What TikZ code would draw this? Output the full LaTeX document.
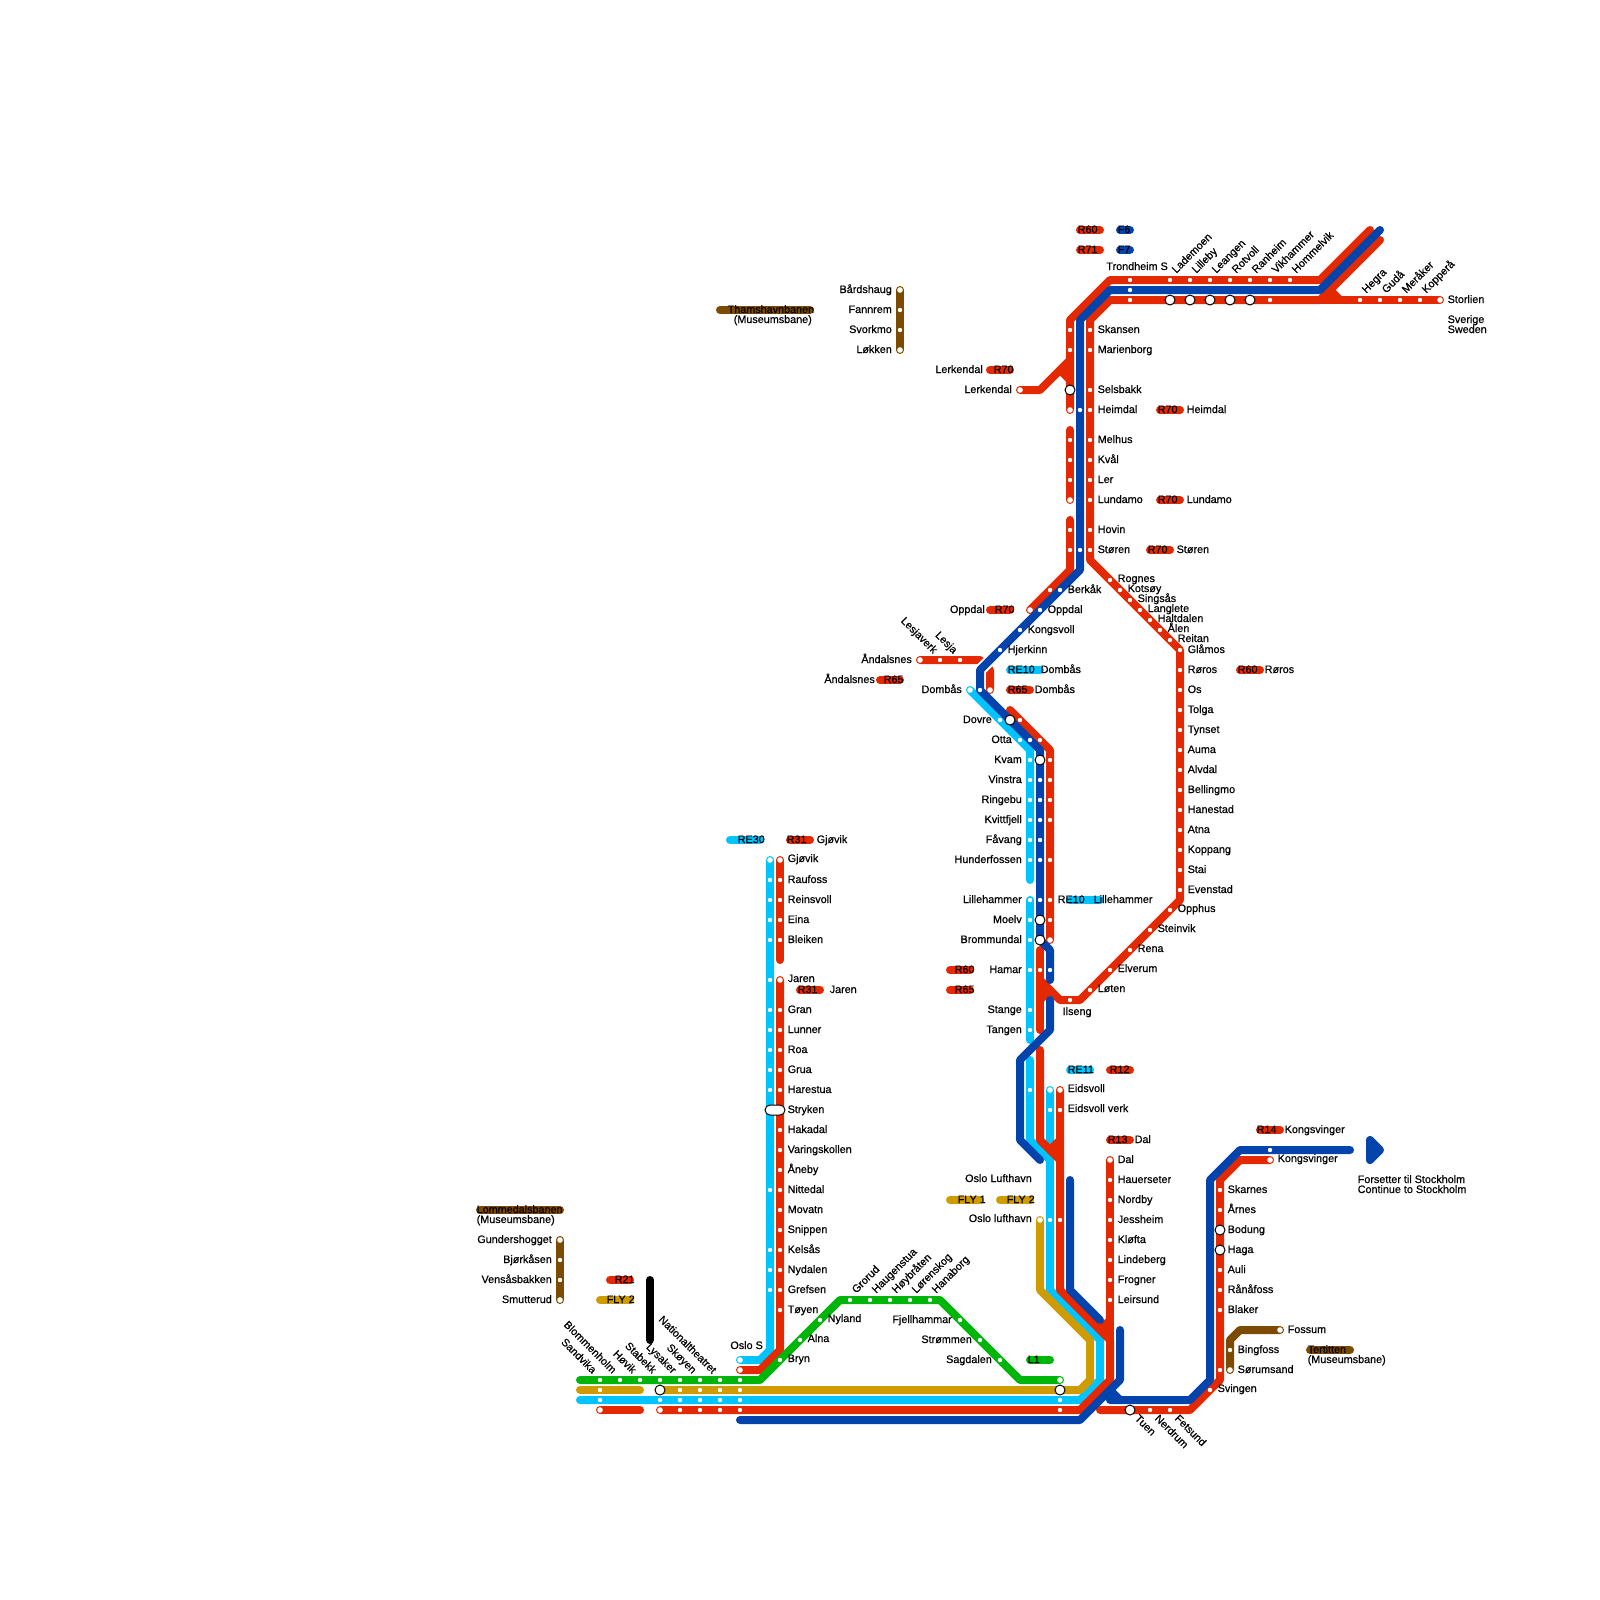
\documentclass[tikz,border=0pt]{standalone}
\usepackage{fontspec}
\setmainfont{Liberation Sans}[RawFeature={embolden=0.6}]
\usetikzlibrary{positioning}

\definecolor{redl}{HTML}{E42800}
\definecolor{bluel}{HTML}{0344AC}
\definecolor{skyl}{HTML}{00C4FF}
\definecolor{greenl}{HTML}{00B50A}
\definecolor{goldl}{HTML}{CE9C00}
\definecolor{brownl}{HTML}{7C4B00}

\tikzset{
  rail/.style={line width=8pt, line cap=round, line join=round},
  casing/.style={line width=12pt, white},
  stop/.style={circle, fill=white, inner sep=0pt, minimum size=4.4pt},
  endstop/.style={circle, fill=white, inner sep=0pt, minimum size=5.6pt},
  xfer/.style={circle, fill=white, draw=black, line width=1pt, inner sep=0pt, minimum size=10pt},
  pillstop/.style={rectangle, rounded corners=5pt, fill=white, draw=black, line width=1pt, inner sep=0pt, minimum width=20pt, minimum height=10pt},
  txt/.style={inner sep=0pt, font=\fontsize{10.8}{10.8}\selectfont},
  rlab/.style={txt, anchor=base west, xshift=-0.5pt},
  llab/.style={txt, anchor=base east},
  uplab/.style={txt, anchor=base west, rotate=45, xshift=3pt},
  dnlab/.style={txt, anchor=base east, rotate=-45, xshift=-2.5pt, yshift=-1.5pt},
  dnrlab/.style={txt, anchor=base west, rotate=-45, xshift=1.5pt, yshift=1.5pt},
}

\begin{document}
\begin{tikzpicture}[x=1pt, y=-1pt]
\useasboundingbox (0,0) rectangle (1600,1600);

% Sky lines
\draw[rail, skyl] (970,690) -- (1030,750) -- (1030,880);
\draw[rail, skyl] (1030,900) -- (1030,1040);
\draw[rail, skyl] (1030,1060) -- (1030,1140) -- (1050,1160);
\draw[rail, skyl] (1050,1090) -- (1050,1290) -- (1100,1340) -- (1100,1380) -- (1080,1400) -- (580,1400);
\draw[rail, skyl] (740,1360) -- (760,1360) -- (770,1350) -- (770,860);

% Gold lines
\draw[rail, goldl] (1040,1220) -- (1040,1290) -- (1090,1340) -- (1090,1380) -- (1080,1390) -- (660,1390);
\draw[rail, goldl] (580,1390) -- (640,1390);

% Red lines
\draw[rail, redl] (1370,230) -- (1320,280) -- (1110,280) -- (1070,320) -- (1070,410);
\draw[rail, redl] (1020,390) -- (1040,390) -- (1070,360);
\draw[rail, redl] (1060,370) -- (1070,380);
\draw[rail, redl] (1070,430) -- (1070,500);
\draw[rail, redl] (1070,520) -- (1070,570) -- (1030,610);
\draw[rail, redl] (1380,240) -- (1320,300) -- (1110,300) -- (1090,320) -- (1090,560) -- (1180,650) -- (1180,900) -- (1080,1000) -- (1060,1000) -- (1040,980);
\draw[rail, redl] (1320,300) -- (1440,300);
\draw[rail, redl] (1330,290) -- (1340,300);
\draw[rail, redl] (920,660) -- (980,660) -- (990,670) -- (990,690);
\draw[rail, redl] (1010,710) -- (1050,750) -- (1050,940);
\draw[rail, redl] (1040,950) -- (1040,1030);
\draw[rail, redl] (1040,1000) -- (1050,990);
\draw[rail, redl] (1040,1050) -- (1040,1140) -- (1060,1160);
\draw[rail, redl] (1060,1140) -- (1050,1150);
\draw[rail, redl] (1060,1090) -- (1060,1290) -- (1110,1340) -- (1110,1380) -- (1080,1410) -- (660,1410);
\draw[rail, redl] (600,1410) -- (640,1410);
\draw[rail, redl] (1110,1160) -- (1110,1340);
\draw[rail, redl] (1110,1320) -- (1100,1330);
\draw[rail, redl] (1270,1160) -- (1240,1160) -- (1220,1180) -- (1220,1380) -- (1190,1410) -- (1100,1410);
\draw[rail, redl] (740,1370) -- (760,1370) -- (780,1350) -- (780,980);
\draw[rail, redl] (780,860) -- (780,960);

% Blue lines
\draw[casing] (980,670) -- (1000,650);
\draw[rail, bluel] (1380,230) -- (1320,290) -- (1110,290) -- (1080,320) -- (1080,570) -- (980,670) -- (980,690) -- (1040,750) -- (1040,940) -- (1050,950) -- (1050,980);
\draw[rail, bluel] (1050,1000) -- (1050,1030) -- (1020,1060) -- (1020,1140) -- (1040,1160);
\draw[rail, bluel] (1070,1180) -- (1070,1290) -- (1100,1320);
\draw[rail, bluel] (1120,1330) -- (1120,1380) -- (1080,1420) -- (740,1420);
\draw[rail, bluel] (1350,1150) -- (1240,1150) -- (1210,1180) -- (1210,1380) -- (1190,1400) -- (1110,1400);
\draw[rail, bluel] (1110,1390) -- (1120,1400);
\draw[rail, bluel, fill=bluel] (1370,1140) -- (1380,1150) -- (1370,1160) -- cycle;

% Green, brown, black lines
\draw[rail, greenl] (580,1380) -- (760,1380) -- (840,1300) -- (940,1300) -- (1020,1380) -- (1060,1380);
\draw[rail, brownl] (900,290) -- (900,350);
\draw[rail, brownl] (560,1240) -- (560,1300);
\draw[rail, brownl] (1280,1330) -- (1240,1330) -- (1230,1340) -- (1230,1370);
\draw[rail, black] (650,1280) -- (650,1340);

% Legend pills
\foreach \xa/\xb/\y/\c/\xt/\t in {1080/1100/230/redl/1078/R60, 1120/1130/230/bluel/1118/F6, 1080/1100/250/redl/1078/R71, 1120/1130/250/bluel/1118/F7,
  990/1010/370/redl/994/R70, 1160/1180/410/redl/1158/R70, 1160/1180/500/redl/1158/R70, 1150/1170/550/redl/1148/R70, 990/1010/610/redl/995/R70,
  1010/1040/670/skyl/1008/RE10, 1010/1030/690/redl/1008/R65, 1240/1260/670/redl/1238/R60, 880/900/680/redl/884/R65,
  1070/1100/900/skyl/1058/RE10, 950/970/970/redl/955/R60, 950/970/990/redl/955/R65, 1070/1090/1070/skyl/1068/RE11, 1110/1130/1070/redl/1110/R12,
  1110/1130/1140/redl/1108/R13, 950/980/1200/goldl/958/FLY 1, 1000/1030/1200/goldl/1007/FLY 2, 610/630/1280/redl/615/R21, 600/630/1300/goldl/607/FLY 2,
  790/810/840/redl/787/R31, 730/760/840/skyl/738/RE30, 800/820/990/redl/798/R31, 1260/1280/1130/redl/1257/R14, 1030/1050/1360/greenl/1028/L1,
  1310/1350/1350/brownl/1308/Tertitten, 480/560/1210/brownl/477/Lommedalsbanen, 720/810/310/brownl/728/Thamshavnbanen}
  {\draw[rail, \c] (\xa,\y) -- (\xb,\y);
   \node[rlab] (p\xt-\y) at (\xt,\y+3) {\t};}

% Texts beside the pills
\foreach \x/\y/\t in {817/840/Gjøvik, 830/990/Jaren, 1265/670/Røros, 1041/670/Dombås, 1035/690/Dombås, 1187/410/Heimdal, 1187/500/Lundamo, 1177/550/Støren,
  1094/900/Lillehammer, 1135/1140/Dal, 1285/1130/Kongsvinger, 1308/1360/(Museumsbane), 477/1220/(Museumsbane)}
  \node[rlab] (q\x-\y) at (\x,\y+3) {\t};
\foreach \x/\y/\t in {983/370/Lerkendal, 985/610/Oppdal, 875/680/Åndalsnes, 812/320/(Museumsbane)}
  \node[llab] (q\x-\y) at (\x,\y+3) {\t};

% Trondheim area
\foreach \y in {280, 290, 300} \node[stop] (n1130-\y) at (1130,\y) {};
\foreach \x/\t in {1170/Lademoen, 1190/Lilleby, 1210/Leangen, 1230/Rotvoll, 1250/Ranheim, 1270/Vikhammer, 1290/Hommelvik}
  {\node[stop] (n\x-280) at (\x,280) {};
   \node[uplab] (t\x-280) at (\x+4,280-4) {\t};}
\foreach \x in {1170, 1190, 1210, 1230, 1250} \node[xfer] (n\x-300) at (\x,300) {};
\node[stop] (n1270-300) at (1270,300) {};
\foreach \x/\t in {1360/Hegra, 1380/Gudå, 1400/Meråker, 1420/Kopperå}
  {\node[stop] (n\x-300) at (\x,300) {};
   \node[uplab] (t\x-300) at (\x+4,300-4) {\t};}
\node[endstop] (storlien) at (1440,300) {};
\node[rlab] (tstorlien) at (1448,303) {Storlien};
\node[rlab] (tsverige) at (1448,323) {Sverige};
\node[rlab] (tsweden) at (1448,333) {Sweden};
\node[llab] (ttrondheim) at (1168,270) {Trondheim S};

% Dovrebanen, red and blue
\foreach \y/\t in {330/Skansen, 350/Marienborg, 390/Selsbakk, 410/Heimdal, 440/Melhus, 460/Kvål, 480/Ler, 500/Lundamo, 530/Hovin, 550/Støren}
  {\node[stop] (r\y) at (1090,\y) {};
   \node[rlab] (tr\y) at (1098,\y+3) {\t};}
\foreach \y in {330, 350, 440, 460, 480, 530, 550} \node[stop] (l\y) at (1070,\y) {};
\foreach \y in {410, 500} \node[endstop] (l\y) at (1070,\y) {};
\node[xfer] (selsbakk) at (1070,390) {};
\node[endstop] (lerkendal) at (1020,390) {};
\node[llab] (tlerkendal) at (1012,393) {Lerkendal};
\foreach \y in {410, 550} \node[stop] (b\y) at (1080,\y) {};
\node[stop] (berkakr) at (1050,590) {};
\node[endstop] (oppdalr) at (1030,610) {};
\foreach \x/\y/\t in {1060/590/Berkåk, 1040/610/Oppdal, 1020/630/Kongsvoll, 1000/650/Hjerkinn}
  {\node[stop] (b\x) at (\x,\y) {};
   \node[rlab] (tb\x) at (\x+8,\y+3) {\t};}

% Lesja branch
\node[endstop] (andalsnes) at (920,660) {};
\node[llab] (tandalsnes) at (912,663) {Åndalsnes};
\node[stop] (lesjaverk) at (940,660) {};
\node[stop] (lesja) at (960,660) {};
\node[dnlab] (tlesjaverk) at (936,655) {Lesjaverk};
\node[dnlab] (tlesja) at (956,655) {Lesja};
\node[endstop] (dombasr) at (990,690) {};
\node[endstop] (dombass) at (970,690) {};
\node[stop] (dombasb) at (980,690) {};
\node[llab] (tdombas) at (962,693) {Dombås};

% Dovre to Brommundal
\node[stop] (dovres) at (1000,720) {};
\node[xfer] (dovreb) at (1010,720) {};
\node[stop] (dovrer) at (1020,720) {};
\node[llab] (tdovre) at (992,723) {Dovre};
\foreach \x in {1020, 1030, 1040} \node[stop] (otta\x) at (\x,740) {};
\node[llab] (totta) at (1012,743) {Otta};
\foreach \y/\t in {760/Kvam, 780/Vinstra, 800/Ringebu, 820/Kvittfjell, 840/Fåvang, 860/Hunderfossen, 900/Lillehammer, 920/Moelv, 940/Brommundal, 970/Hamar, 1010/Stange, 1030/Tangen}
  {\node[stop] (s\y) at (1030,\y) {};
   \node[llab] (ts\y) at (1022,\y+3) {\t};}
\foreach \y in {780, 800, 820, 840, 860, 900} \node[stop] (b\y) at (1040,\y) {};
\foreach \y in {760, 920, 940} \node[xfer] (b\y) at (1040,\y) {};
\foreach \y in {760, 780, 800, 820, 860, 900, 920} \node[stop] (u\y) at (1050,\y) {};
\node[endstop] (u940) at (1050,940) {};
\node[stop] (hamarr) at (1040,970) {};
\node[stop] (hamarb) at (1050,970) {};

% Rorosbanen
\foreach \x/\y/\t in {1110/580/Rognes, 1120/590/Kotsøy, 1130/600/Singsås, 1140/610/Langlete, 1150/620/Haltdalen, 1160/630/Ålen, 1170/640/Reitan,
  1170/910/Opphus, 1150/930/Steinvik, 1130/950/Rena, 1110/970/Elverum, 1090/990/Løten}
  {\node[stop] (d\x-\y) at (\x,\y) {};
   \node[rlab] (td\x-\y) at (\x+8,\y+2) {\t};}
\foreach \y/\t in {650/Glåmos, 670/Røros, 690/Os, 710/Tolga, 730/Tynset, 750/Auma, 770/Alvdal, 790/Bellingmo, 810/Hanestad, 830/Atna, 850/Koppang, 870/Stai, 890/Evenstad}
  {\node[stop] (g\y) at (1180,\y) {};
   \node[rlab] (tg\y) at (1188,\y+3) {\t};}
\node[stop] (ilseng) at (1070,1000) {};
\node[rlab] (tilseng) at (1063,1015) {Ilseng};

% Eidsvoll and Gardermoen
\node[stop] (eids) at (1030,1090) {};
\node[endstop] (eid1) at (1050,1090) {};
\node[stop] (eid2) at (1050,1110) {};
\node[endstop] (eid3) at (1060,1090) {};
\node[stop] (eid4) at (1060,1110) {};
\node[rlab] (teid1) at (1068,1092) {Eidsvoll};
\node[rlab] (teid2) at (1068,1112) {Eidsvoll verk};
\node[endstop] (lufta) at (1040,1220) {};
\node[stop] (luftb) at (1050,1220) {};
\node[stop] (luftc) at (1060,1220) {};
\node[llab] (tlufta) at (1032,1182) {Oslo Lufthavn};
\node[llab] (tluftb) at (1032,1222) {Oslo lufthavn};
\node[endstop] (dal) at (1110,1160) {};
\node[rlab] (tdal) at (1118,1163) {Dal};
\foreach \y/\t in {1180/Hauerseter, 1200/Nordby, 1220/Jessheim, 1240/Kløfta, 1260/Lindeberg, 1280/Frogner, 1300/Leirsund}
  {\node[stop] (a\y) at (1110,\y) {};
   \node[rlab] (ta\y) at (1118,\y+3) {\t};}

% Kongsvingerbanen
\node[stop] (kongb) at (1270,1150) {};
\node[endstop] (kongr) at (1270,1160) {};
\node[rlab] (tkong) at (1278,1162) {Kongsvinger};
\foreach \y/\t in {1190/Skarnes, 1210/Årnes, 1270/Auli, 1290/Rånåfoss, 1310/Blaker}
  {\node[stop] (k\y) at (1220,\y) {};
   \node[rlab] (tk\y) at (1228,\y+3) {\t};}
\foreach \y/\t in {1230/Bodung, 1250/Haga}
  {\node[xfer] (k\y) at (1220,\y) {};
   \node[rlab] (tk\y) at (1228,\y+3) {\t};}
\node[stop] (k1370) at (1220,1370) {};
\node[stop] (svingen) at (1210,1390) {};
\node[rlab] (tsvingen) at (1218,1392) {Svingen};
\node[xfer] (tuen) at (1130,1410) {};
\foreach \x in {1150, 1170} \node[stop] (f\x) at (\x,1410) {};
\foreach \x/\t in {1130/Tuen, 1150/Nerdrum, 1170/Fetsund}
  \node[dnrlab] (tf\x) at (\x+2,1419) {\t};
\node[rlab] (tforts) at (1358,1183) {Forsetter til Stockholm};
\node[rlab] (tcont) at (1358,1193) {Continue to Stockholm};

% Tertitten
\node[endstop] (fossum) at (1280,1330) {};
\node[rlab] (tfossum) at (1288,1333) {Fossum};
\node[stop] (bingfoss) at (1230,1350) {};
\node[rlab] (tbingfoss) at (1238,1353) {Bingfoss};
\node[endstop] (sorumsand) at (1230,1370) {};
\node[rlab] (tsorumsand) at (1238,1373) {Sørumsand};

% Museum lines
\foreach \y/\t in {290/Bårdshaug, 310/Fannrem, 330/Svorkmo, 350/Løkken}
  {\node[stop] (m\y) at (900,\y) {};
   \node[llab] (tm\y) at (892,\y+3) {\t};}
\foreach \y/\t in {1240/Gundershogget, 1260/Bjørkåsen, 1280/Vensåsbakken, 1300/Smutterud}
  {\node[stop] (m\y) at (560,\y) {};
   \node[llab] (tm\y) at (552,\y+3) {\t};}
\foreach \n/\x/\y in {ma/900/290, mb/900/350, mc/560/1240, md/560/1300} \node[endstop] (\n) at (\x,\y) {};

% Gjovikbanen
\foreach \y in {880, 900, 920, 940, 980, 1010, 1030, 1050, 1070, 1090, 1190, 1250, 1270, 1290} \node[stop] (c\y) at (770,\y) {};
\node[endstop] (c860) at (770,860) {};
\foreach \y/\t in {880/Raufoss, 900/Reinsvoll, 920/Eina, 940/Bleiken, 1010/Gran, 1030/Lunner, 1050/Roa, 1070/Grua, 1090/Harestua, 1130/Hakadal, 1150/Varingskollen, 1170/Åneby, 1190/Nittedal, 1210/Movatn, 1230/Snippen, 1250/Kelsås, 1270/Nydalen, 1290/Grefsen, 1310/Tøyen}
  {\node[stop] (j\y) at (780,\y) {};
   \node[rlab] (tj\y) at (788,\y+3) {\t};}
\foreach \y/\t in {860/Gjøvik, 980/Jaren}
  {\node[endstop] (j\y) at (780,\y) {};
   \node[rlab] (tj\y) at (788,\y+2) {\t};}
\node[pillstop] (stryken) at (775,1110) {};
\node[rlab] (tstryken) at (788,1113) {Stryken};

% Oslo S and Groruddalen
\node[endstop] (oslos) at (740,1360) {};
\node[endstop] (oslor) at (740,1370) {};
\node[llab] (toslo) at (763,1349) {Oslo S};
\foreach \x/\y/\t in {780/1360/Bryn, 800/1340/Alna, 820/1320/Nyland}
  {\node[stop] (e\x) at (\x,\y) {};
   \node[rlab] (te\x) at (\x+8,\y+2) {\t};}
\foreach \x/\t in {850/Grorud, 870/Haugenstua, 890/Høybråten, 910/Lørenskog, 930/Hanaborg}
  {\node[stop] (e\x) at (\x,1300) {};
   \node[uplab] (te\x) at (\x+4,1296) {\t};}
\foreach \x/\y/\t in {960/1320/Fjellhammar, 980/1340/Strømmen, 1000/1360/Sagdalen}
  {\node[stop] (e\x) at (\x,\y) {};
   \node[llab] (te\x) at (\x-8,\y+3) {\t};}
\node[endstop] (e1060) at (1060,1380) {};
\node[xfer] (xa) at (660,1390) {};
\node[xfer] (xb) at (1060,1390) {};

% Drammen side
\foreach \x/\t in {600/Sandvika, 620/Blommenholm, 640/Høvik, 660/Stabekk, 680/Lysaker, 700/Skøyen, 720/Nationaltheatret}
  {\node[stop] (v\x) at (\x,1380) {};
   \node[dnlab] (tv\x) at (\x-5,1375) {\t};}
\node[stop] (v740) at (740,1380) {};
\foreach \x in {600, 680, 700, 720, 740} \node[stop] (g\x) at (\x,1390) {};
\foreach \x in {600, 660, 680, 700, 720, 740, 1060} \node[stop] (h\x) at (\x,1400) {};
\foreach \x in {680, 700, 720, 740, 1060} \node[stop] (i\x) at (\x,1410) {};
\foreach \x in {600, 660} \node[endstop] (i\x) at (\x,1410) {};

\end{tikzpicture}
\end{document}
